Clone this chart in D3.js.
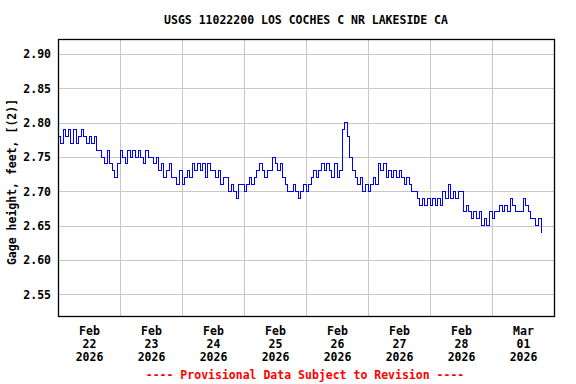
<!DOCTYPE html>
<html>
<head>
<meta charset="utf-8">
<script src="https://cdn.jsdelivr.net/npm/d3@7"></script>
<style>
  body { margin: 0; background: #fff; }
  svg { display: block; }
  text { font-family: "DejaVu Sans Mono", "Liberation Mono", monospace; font-weight: bold; font-size: 11.5px; fill: #000; }
</style>
</head>
<body>
<svg id="chart"></svg>
<script>
const width = 576;
const height = 384;

const plotLeft = 58, plotRight = 554, plotTop = 39, plotBottom = 316;

const title = "USGS 11022200 LOS COCHES C NR LAKESIDE CA";
const yTitle = "Gage height, feet, [(2)]";
const footer = "---- Provisional Data Subject to Revision ----";

// hourly gage height readings starting Feb 22 2026 00:00
const startTime = Date.UTC(2026, 1, 22, 0, 0);
const gageHeight = [
	// Feb 22
	2.78, 2.77, 2.79, 2.78, 2.79, 2.77, 2.79, 2.77, 2.78, 2.79, 2.78, 2.77,
	2.78, 2.77, 2.78, 2.76, 2.76, 2.75, 2.74, 2.76, 2.74, 2.73, 2.72, 2.74,
	// Feb 23
	2.76, 2.75, 2.74, 2.76, 2.75, 2.76, 2.75, 2.76, 2.75, 2.74, 2.76, 2.75,
	2.75, 2.74, 2.75, 2.73, 2.74, 2.72, 2.73, 2.74, 2.72, 2.72, 2.71, 2.73,
	// Feb 24
	2.71, 2.72, 2.73, 2.72, 2.74, 2.73, 2.74, 2.73, 2.74, 2.72, 2.74, 2.73,
	2.73, 2.72, 2.73, 2.71, 2.72, 2.72, 2.70, 2.71, 2.70, 2.69, 2.71, 2.71,
	// Feb 25
	2.70, 2.71, 2.72, 2.71, 2.72, 2.73, 2.74, 2.73, 2.72, 2.73, 2.73, 2.75,
	2.74, 2.73, 2.74, 2.72, 2.71, 2.70, 2.70, 2.71, 2.70, 2.69, 2.70, 2.71,
	// Feb 26
	2.70, 2.71, 2.72, 2.73, 2.72, 2.73, 2.74, 2.73, 2.74, 2.73, 2.72, 2.74,
	2.72, 2.73, 2.79, 2.80, 2.78, 2.75, 2.73, 2.72, 2.71, 2.72, 2.70, 2.71,
	// Feb 27
	2.70, 2.71, 2.72, 2.71, 2.74, 2.73, 2.74, 2.72, 2.73, 2.72, 2.73, 2.72,
	2.73, 2.72, 2.71, 2.72, 2.71, 2.70, 2.70, 2.69, 2.68, 2.69, 2.68, 2.69,
	// Feb 28
	2.68, 2.69, 2.68, 2.69, 2.68, 2.70, 2.69, 2.71, 2.69, 2.70, 2.69, 2.70,
	2.70, 2.67, 2.68, 2.67, 2.66, 2.67, 2.66, 2.67, 2.65, 2.66, 2.65, 2.67,
	// Mar 01
	2.66, 2.67, 2.67, 2.68, 2.67, 2.68, 2.67, 2.69, 2.68, 2.67, 2.67, 2.67,
	2.69, 2.68, 2.67, 2.66, 2.66, 2.65, 2.66, 2.64
];

const dayLabels = ["Feb\n22\n2026", "Feb\n23\n2026", "Feb\n24\n2026", "Feb\n25\n2026",
	"Feb\n26\n2026", "Feb\n27\n2026", "Feb\n28\n2026", "Mar\n01\n2026"];
const yTicks = [2.55, 2.60, 2.65, 2.70, 2.75, 2.80, 2.85, 2.90];

const hour = 3600 * 1000;
const data = gageHeight.map((v, i) => ({ t: new Date(startTime + i * hour), v }));

const svg = d3.select("#chart").attr("width", width).attr("height", height);

const x = d3.scaleUtc()
	.domain([new Date(startTime), new Date(startTime + 8 * 24 * hour)])
	.range([plotLeft, plotRight]);
const y = d3.scaleLinear().domain([2.5185, 2.922]).range([plotBottom, plotTop]);

// horizontal gridlines + tick labels
const yAxis = svg.append("g")
	.attr("transform", `translate(${plotLeft},0)`)
	.call(d3.axisLeft(y).tickValues(yTicks).tickFormat(d3.format(".2f"))
		.tickSize(-(plotRight - plotLeft)).tickPadding(7));
yAxis.select(".domain").remove();
yAxis.selectAll("line").attr("stroke", "#c8c8c8").attr("shape-rendering", "crispEdges");
yAxis.selectAll("text").attr("font-size", null).attr("font-family", null);
yAxis.attr("font-size", null).attr("font-family", null);

// vertical gridlines at midnight
const dayBounds = d3.range(1, 8).map((d) => new Date(startTime + d * 24 * hour));
const xGrid = svg.append("g")
	.attr("transform", `translate(0,${plotBottom})`)
	.call(d3.axisBottom(x).tickValues(dayBounds).tickSize(-(plotBottom - plotTop)).tickFormat(""));
xGrid.select(".domain").remove();
xGrid.selectAll("line").attr("stroke", "#c8c8c8").attr("shape-rendering", "crispEdges");

// day labels at noon
const noons = d3.range(8).map((d) => new Date(startTime + (d * 24 + 12) * hour));
const xLab = svg.append("g")
	.attr("transform", `translate(0,${plotBottom})`)
	.call(d3.axisBottom(x).tickValues(noons).tickSize(0).tickFormat(""));
xLab.select(".domain").remove();
xLab.attr("font-size", null).attr("font-family", null);
xLab.selectAll(".tick").each(function (d, i) {
	const lines = dayLabels[i].split("\n");
	const t = d3.select(this).select("text").attr("y", 0).attr("dy", null);
	lines.forEach((s, k) => {
		t.append("tspan").attr("x", 0).attr("y", 19 + k * 13).text(s);
	});
});

svg.append("clipPath").attr("id", "clip")
	.append("rect").attr("x", plotLeft).attr("y", plotTop)
	.attr("width", plotRight - plotLeft).attr("height", plotBottom - plotTop);

svg.append("path")
	.datum(data)
	.attr("clip-path", "url(#clip)")
	.attr("fill", "none")
	.attr("stroke", "#0000ff")
	.attr("stroke-width", 1)
	.attr("shape-rendering", "crispEdges")
	.attr("d", d3.line().curve(d3.curveStepAfter).x((d) => x(d.t)).y((d) => y(d.v)));

// plot frame
svg.append("rect")
	.attr("x", plotLeft + 0.5).attr("y", plotTop + 0.5)
	.attr("width", plotRight - plotLeft).attr("height", plotBottom - plotTop)
	.attr("fill", "none").attr("stroke", "#000").attr("stroke-width", 1.3);

svg.append("text")
	.attr("x", (plotLeft + plotRight) / 2).attr("y", 24)
	.attr("text-anchor", "middle")
	.text(title);

svg.append("text")
	.attr("transform", `translate(16,182) rotate(-90)`)
	.attr("text-anchor", "middle")
	.text(yTitle);

svg.append("text")
	.attr("x", 305).attr("y", 379)
	.attr("text-anchor", "middle")
	.style("fill", "#ff0000")
	.text(footer);
</script>
</body>
</html>
